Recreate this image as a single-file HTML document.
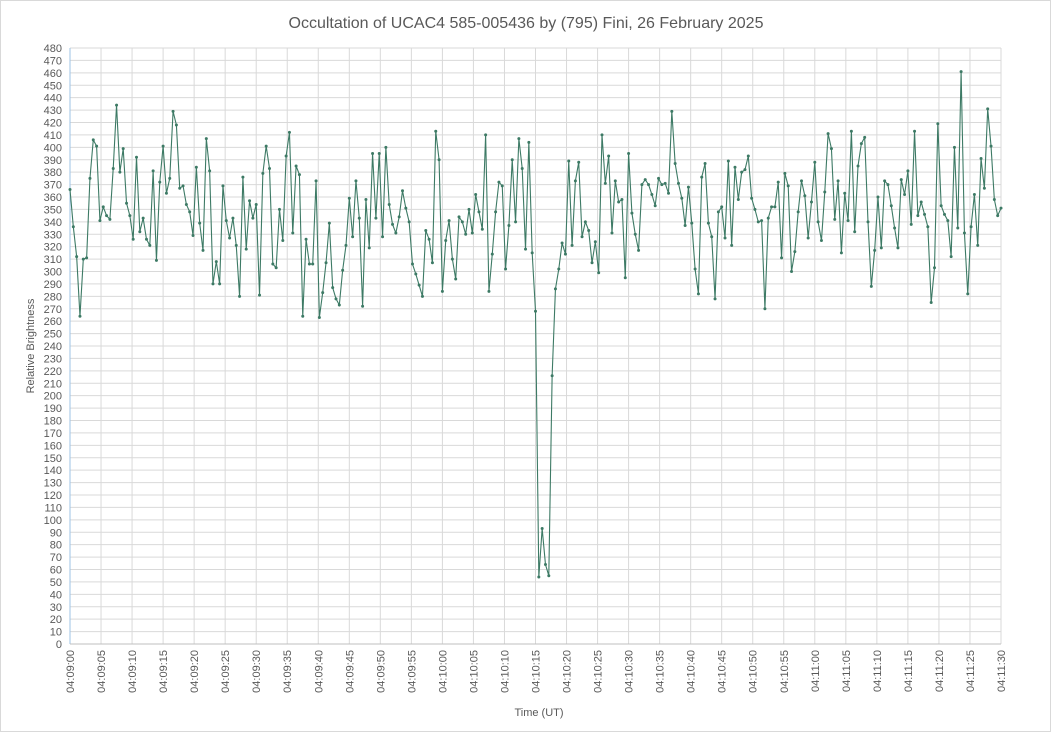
<!DOCTYPE html>
<html><head><meta charset="utf-8"><style>
html,body{margin:0;padding:0;background:#fff;}
svg{display:block;font-family:"Liberation Sans",sans-serif;}
</style></head><body>
<svg id="chart" width="1051" height="732" xmlns="http://www.w3.org/2000/svg">
<rect x="0.5" y="0.5" width="1050" height="731" fill="#fff" stroke="#d9d9d9"/>
<text x="526" y="28" text-anchor="middle" font-size="16" fill="#595959">Occultation of UCAC4 585-005436 by (795) Fini, 26 February 2025</text>
<g id="grid"></g>
<g id="yticks"></g>
<g id="xticks"></g>
<g id="series"></g>
<text transform="translate(34,346) rotate(-90)" text-anchor="middle" font-size="11" fill="#595959">Relative Brightness</text>
<text x="539" y="716" text-anchor="middle" font-size="11" fill="#595959">Time (UT)</text>
</svg>
<script>
const values = [366,336,312,264,310,311,375,406,401,341,352,345,342,383,434,380,399,355,345,326,392,332,343,326,321,381,309,372,401,363,375,429,418,
367,369,354,348,329,384,339,317,407,381,290,308,290,369,341,327,343,321,280,376,318,357,343,354,281,379,401,383,306,303,350,325,393,412,331,385,
378,264,326,306,306,373,263,283,307,339,287,278,273,301,321,359,328,373,343,272,358,319,395,343,395,328,400,354,338,331,344,365,351,340,306,298,289,
280,333,326,307,413,390,284,325,341,310,294,344,340,330,350,331,362,348,334,410,284,314,348,372,369,302,337,390,340,407,383,318,404,315,268,
54,93,64,55,216,286,302,323,314,
389,321,373,388,328,340,333,307,324,299,410,371,393,331,373,356,358,295,395,347,330,317,370,374,370,362,353,375,
370,371,363,429,387,371,359,337,368,339,302,282,376,387,339,328,278,348,352,327,389,321,384,358,380,382,393,359,350,340,341,270,343,352,352,372,
311,379,369,300,316,348,373,361,327,356,388,340,325,364,411,399,342,373,315,363,341,413,332,385,403,408,340,288,317,360,319,373,370,353,335,319,
374,362,381,338,413,345,356,346,336,275,303,419,353,346,341,312,400,335,461,331,282,336,362,321,391,367,431,401,358,345,351];
const startSec = 0;
const endSec = 150;
const yMax = 480;
const yStep = 10;
const xTickStep = 5;
const xTickLabels = ["04:09:00","04:09:05","04:09:10","04:09:15","04:09:20","04:09:25","04:09:30","04:09:35","04:09:40","04:09:45","04:09:50","04:09:55","04:10:00","04:10:05","04:10:10","04:10:15","04:10:20","04:10:25","04:10:30","04:10:35","04:10:40","04:10:45","04:10:50","04:10:55","04:11:00","04:11:05","04:11:10","04:11:15","04:11:20","04:11:25","04:11:30"];

const NS="http://www.w3.org/2000/svg";
const L=70,R=1001,T=48,B=644;
const xs=s=>L+(s-startSec)/(endSec-startSec)*(R-L);
const ys=v=>B-v/yMax*(B-T);
function mk(tag,attrs,parent){const e=document.createElementNS(NS,tag);for(const k in attrs)e.setAttribute(k,attrs[k]);parent.appendChild(e);return e;}
const grid=document.getElementById('grid'),yt=document.getElementById('yticks'),xt=document.getElementById('xticks'),ser=document.getElementById('series');
for(let v=0;v<=yMax;v+=yStep){
  const y=ys(v);
  const gl=mk('line',{x1:L,x2:R,y1:y,y2:y,stroke:'#d9d9d9','stroke-width':1},grid);
  
  
  const t=mk('text',{x:L-8,y:y+4,'text-anchor':'end','font-size':11,fill:'#595959'},yt);
  
  
  t.textContent=v;
}
xTickLabels.forEach((lab,i)=>{
  const x=xs(startSec+i*xTickStep);
  const gl=mk('line',{x1:x,x2:x,y1:T,y2:B,stroke:'#d9d9d9','stroke-width':1},grid);
  
  
  const t=mk('text',{transform:`translate(${x+4},${B+6}) rotate(-90)`,'text-anchor':'end','font-size':11,fill:'#595959'},xt);
  
  
  t.textContent=lab;
});
const yAx=mk('line',{x1:L,x2:L,y1:T,y2:B,stroke:'#9dc3e6','stroke-width':1},grid);


const xAx=mk('line',{x1:L,x2:R,y1:B,y2:B,stroke:'#bfbfbf','stroke-width':1},grid);


const n=values.length;
const dt=(endSec-startSec)/(n-1);
const pts=values.map((v,i)=>[xs(startSec+i*dt),ys(v)]);
const pl=mk('polyline',{points:pts.map(p=>p[0].toFixed(2)+','+p[1].toFixed(2)).join(' '),fill:'none',stroke:'#3d7a65','stroke-width':1.1},ser);


pts.forEach(p=>{
  const c=mk('circle',{cx:p[0],cy:p[1],r:1.5,fill:'#3d7a65'},ser);
  
  
});
</script>
</body></html>
